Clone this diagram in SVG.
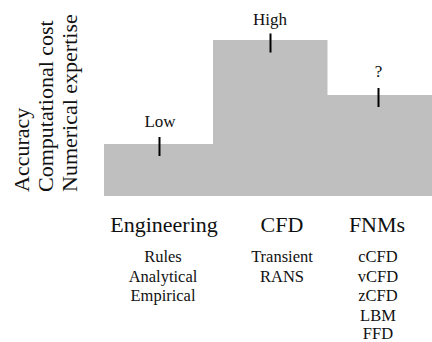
<svg xmlns="http://www.w3.org/2000/svg" width="432" height="342" viewBox="0 0 432 342">
<style>
text{font-family:"Liberation Serif","Times New Roman",serif;fill:#111}
.axis{font-size:22px}
.head{font-size:22px;text-anchor:middle}
.sub{font-size:16.5px;text-anchor:middle}
.lvl{font-size:17px;text-anchor:middle}
.bar{fill:#bfbfbf}
.tick{stroke:#000;stroke-width:2}
</style>
<rect width="432" height="342" fill="#fff"/>
<g id="axis-labels">
<text class="axis" transform="translate(28.5,192) rotate(-90)">Accuracy</text>
<text class="axis" transform="translate(52.5,192) rotate(-90)">Computational cost</text>
<text class="axis" transform="translate(76.5,192) rotate(-90)">Numerical expertise</text>
</g>
<g id="engineering">
<rect class="bar" x="104" y="144" width="109.5" height="52"/>
<line class="tick" x1="159.5" y1="137" x2="159.5" y2="156"/>
<text class="lvl" x="160" y="127">Low</text>
<text class="head" x="164" y="232">Engineering</text>
<text class="sub" x="163" y="262">Rules</text>
<text class="sub" x="163" y="281.5">Analytical</text>
<text class="sub" x="163" y="301">Empirical</text>
</g>
<g id="cfd">
<rect class="bar" x="213" y="40" width="114.5" height="156"/>
<line class="tick" x1="270.5" y1="33.5" x2="270.5" y2="52.5"/>
<text class="lvl" x="270" y="25">High</text>
<text class="head" x="282" y="232">CFD</text>
<text class="sub" x="282" y="262">Transient</text>
<text class="sub" x="282" y="281.5">RANS</text>
</g>
<g id="fnms">
<rect class="bar" x="327" y="95" width="105" height="101"/>
<line class="tick" x1="378.5" y1="88" x2="378.5" y2="107"/>
<text class="lvl" x="378.5" y="77">?</text>
<text class="head" x="377" y="232">FNMs</text>
<text class="sub" x="378" y="262">cCFD</text>
<text class="sub" x="378" y="281.5">vCFD</text>
<text class="sub" x="378" y="301">zCFD</text>
<text class="sub" x="378" y="320.5">LBM</text>
<text class="sub" x="378" y="338.5">FFD</text>
</g>
<g id="connectors"></g>
</svg>
